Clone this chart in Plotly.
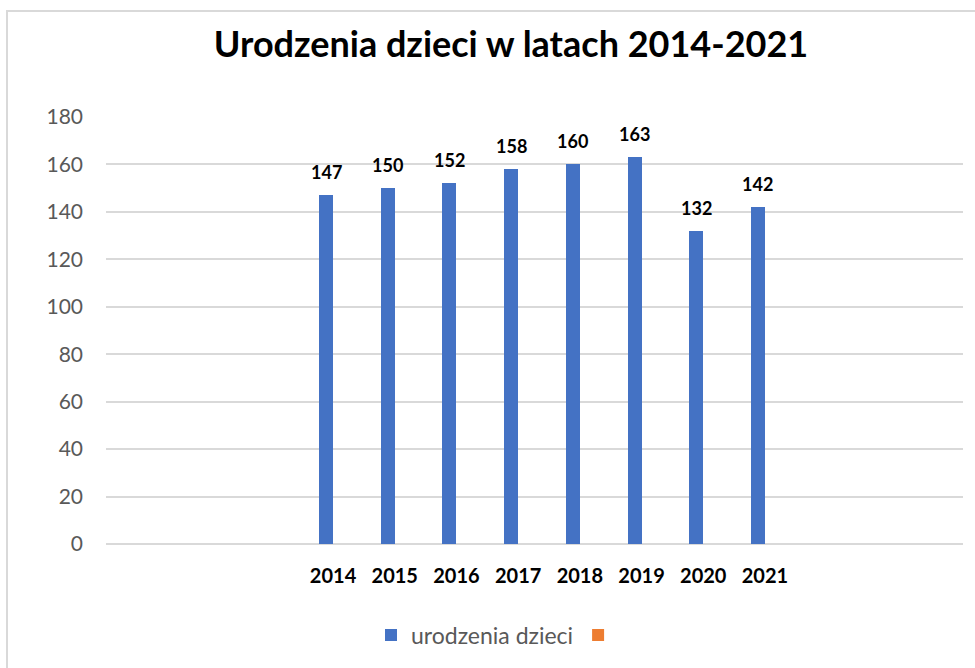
import plotly.graph_objects as go

years = ["2014", "2015", "2016", "2017", "2018", "2019", "2020", "2021"]
births = [147, 150, 152, 158, 160, 163, 132, 142]
second_series = [None] * 8
y_ticks = [0, 20, 40, 60, 80, 100, 120, 140, 160, 180]

W, H = 975, 668
L, R, T, B = 106, 12, 117, 124
pw, ph = W - L - R, H - T - B

def px2paper_x(p):
    return (p - L) / pw

def px2paper_y(p):
    return (H - B - p) / ph

fig = go.Figure()
fig.add_trace(go.Bar(
    x=years, y=births, name="urodzenia dzieci",
    marker=dict(color="#4472C4", line=dict(width=0)),
    width=0.227, offset=-0.227,
))
fig.add_trace(go.Bar(
    x=years, y=second_series, name=" ",
    marker=dict(color="#ED7D31", line=dict(width=0)),
    width=0.227, offset=0.0, showlegend=True,
))

for i, v in enumerate(births):
    fig.add_annotation(
        x=i, y=v, xref="x", yref="y", text=f"<b>{v}</b>", showarrow=False,
        yanchor="bottom", yshift=10, xshift=-7,
        font=dict(family="Lato", size=18, color="#000000"),
    )

# chart frame (left and top edges)
fig.add_shape(type="path", xref="paper", yref="paper",
              path=f"M {px2paper_x(7)} {px2paper_y(700)} L {px2paper_x(7)} {px2paper_y(11)} L {px2paper_x(990)} {px2paper_y(11)}",
              line=dict(color="#D9D9D9", width=2))

fig.update_layout(
    width=W, height=H,
    margin=dict(l=L, r=R, t=T, b=B, pad=0),
    paper_bgcolor="white", plot_bgcolor="white",
    title=dict(text="<b>Urodzenia dzieci w latach 2014-2021</b>",
               x=px2paper_x(511), xref="paper", xanchor="center",
               y=1 - 44 / H, yanchor="middle",
               font=dict(family="Lato", size=36, color="#000000")),
    barmode="overlay",
    showlegend=True,
    legend=dict(orientation="h", x=px2paper_x(500), xanchor="center",
                y=px2paper_y(635), yanchor="middle",
                font=dict(family="Lato", size=23, color="#595959"),
                itemwidth=30, traceorder="normal"),
    xaxis=dict(type="category", range=[-3.68, 10.21], showgrid=False,
               showline=False, zeroline=False, ticks="",
               tickfont=dict(family="Lato", size=20, color="#000000", weight="bold"),
               ticklabelstandoff=18),
    yaxis=dict(range=[0, 180], tickvals=y_ticks, showgrid=True,
               gridcolor="#D9D9D9", gridwidth=1.5, zeroline=True,
               zerolinecolor="#D9D9D9", zerolinewidth=1.5, showline=False,
               ticks="", tickfont=dict(family="Lato", size=21, color="#595959"),
               ticklabelstandoff=22),
    bargap=0,
)

fig.write_html("out.html", config={"displayModeBar": False},
               post_script="document.body.style.margin='0';")
